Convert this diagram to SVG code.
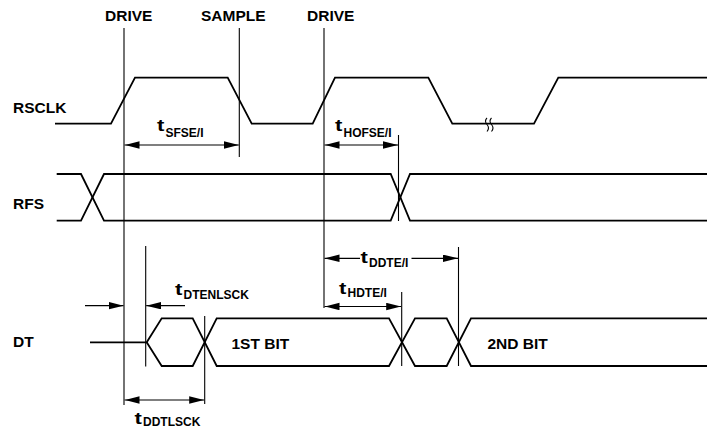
<svg xmlns="http://www.w3.org/2000/svg" width="707" height="434" viewBox="0 0 707 434">
<defs>
<style>
.lbl{font-family:"Liberation Sans",Arial,sans-serif;font-weight:bold;font-size:15.5px;fill:#000}
.t{font-family:"Liberation Sans",Arial,sans-serif;font-weight:bold;font-size:17px;fill:#000}
.sub{font-family:"Liberation Sans",Arial,sans-serif;font-weight:bold;font-size:12px;fill:#000}
.wave{fill:none;stroke:#000;stroke-width:1.8;stroke-linejoin:miter}
.ref{fill:none;stroke:#000;stroke-width:1.1}
.dim{fill:none;stroke:#000;stroke-width:1.2}
</style>
<marker id="ah" markerUnits="userSpaceOnUse" markerWidth="15" markerHeight="8" refX="15" refY="3.7" orient="auto-start-reverse">
<path d="M0,0 L15,3.7 L0,7.4 z" fill="#000"/>
</marker>
</defs>
<rect width="707" height="434" fill="#fff"/>

<g id="top-labels">
<text class="lbl" x="105" y="21">DRIVE</text>
<text class="lbl" x="201" y="21">SAMPLE</text>
<text class="lbl" x="307" y="21">DRIVE</text>
</g>

<g id="rsclk">
<text class="lbl" x="13" y="112.5">RSCLK</text>
<path class="wave" d="M55,123.7 H111 L135,77.7 H227.7 L251.7,123.7 H312.7 L335,77.7 H428.3 L452.3,123.7 H534 L558.3,77.7 H707"/>
<path class="ref" d="M487,118 q-3,3 0,6.5 q3,3.5 0,7 M491.5,118 q-3,3 0,6.5 q3,3.5 0,7"/>
</g>

<g id="rfs">
<text class="lbl" x="13" y="208.5">RFS</text>
<path class="wave" d="M56.7,174 H81 L104,220.7 H390.7 L410,174 H707"/>
<path class="wave" d="M56.7,220.7 H81 L104,174 H390.7 L410,220.7 H707"/>
</g>

<g id="dt">
<text class="lbl" x="13" y="347">DT</text>
<path class="wave" d="M90,342.3 H146.7 L161.7,318.3 H192.7 L216.7,366 H389 L415,318.3 H446.7 L471,366 H707"/>
<path class="wave" d="M146.7,342.3 L161.7,366 H192.7 L216.7,318.3 H389 L415,366 H446.7 L471,318.3 H707"/>
<text class="lbl" x="231.5" y="348.5">1ST BIT</text>
<text class="lbl" x="487.5" y="348.5">2ND BIT</text>
</g>

<g id="reference-lines">
<line class="ref" x1="124" y1="28" x2="124" y2="405"/>
<line class="ref" x1="239.3" y1="28" x2="239.3" y2="157"/>
<line class="ref" x1="324" y1="28" x2="324" y2="308"/>
<line class="ref" x1="398.5" y1="135" x2="398.5" y2="221"/>
<line class="ref" x1="145.7" y1="246" x2="145.7" y2="366.5"/>
<line class="ref" x1="204.7" y1="316" x2="204.7" y2="404"/>
<line class="ref" x1="401.7" y1="292" x2="401.7" y2="366"/>
<line class="ref" x1="458.5" y1="247" x2="458.5" y2="366"/>
</g>

<g id="connectors">
<line class="dim" x1="124.5" y1="145" x2="238.8" y2="145" marker-start="url(#ah)" marker-end="url(#ah)"/>
<line class="dim" x1="324.5" y1="145" x2="398" y2="145" marker-start="url(#ah)" marker-end="url(#ah)"/>
<line class="dim" x1="85" y1="305.7" x2="123.5" y2="305.7" marker-end="url(#ah)"/>
<line class="dim" x1="185" y1="305.7" x2="146.2" y2="305.7" marker-end="url(#ah)"/>
<line class="dim" x1="324.5" y1="258.3" x2="360" y2="258.3" marker-start="url(#ah)"/>
<line class="dim" x1="411.5" y1="258.3" x2="458" y2="258.3" marker-end="url(#ah)"/>
<line class="dim" x1="324.5" y1="306.5" x2="401.2" y2="306.5" marker-start="url(#ah)" marker-end="url(#ah)"/>
<line class="dim" x1="124.5" y1="400" x2="204.2" y2="400" marker-start="url(#ah)" marker-end="url(#ah)"/>
</g>

<g id="timing-labels">
<g id="t-sfse"><text class="t" transform="translate(157,131) scale(1.3,1)">t</text><text class="sub" x="165.5" y="137">SFSE/I</text></g>
<g id="t-hofse"><text class="t" transform="translate(335,131) scale(1.3,1)">t</text><text class="sub" x="343.5" y="137">HOFSE/I</text></g>
<g id="t-dtenlsck"><text class="t" transform="translate(175,295) scale(1.3,1)">t</text><text class="sub" x="183.5" y="298.5">DTENLSCK</text></g>
<g id="t-ddte"><text class="t" transform="translate(360.5,263) scale(1.3,1)">t</text><text class="sub" x="369" y="267">DDTE/I</text></g>
<g id="t-hdte"><text class="t" transform="translate(339,293.5) scale(1.3,1)">t</text><text class="sub" x="347.5" y="297">HDTE/I</text></g>
<g id="t-ddtlsck"><text class="t" transform="translate(134.5,423.5) scale(1.3,1)">t</text><text class="sub" x="143" y="426">DDTLSCK</text></g>
</g>
</svg>
